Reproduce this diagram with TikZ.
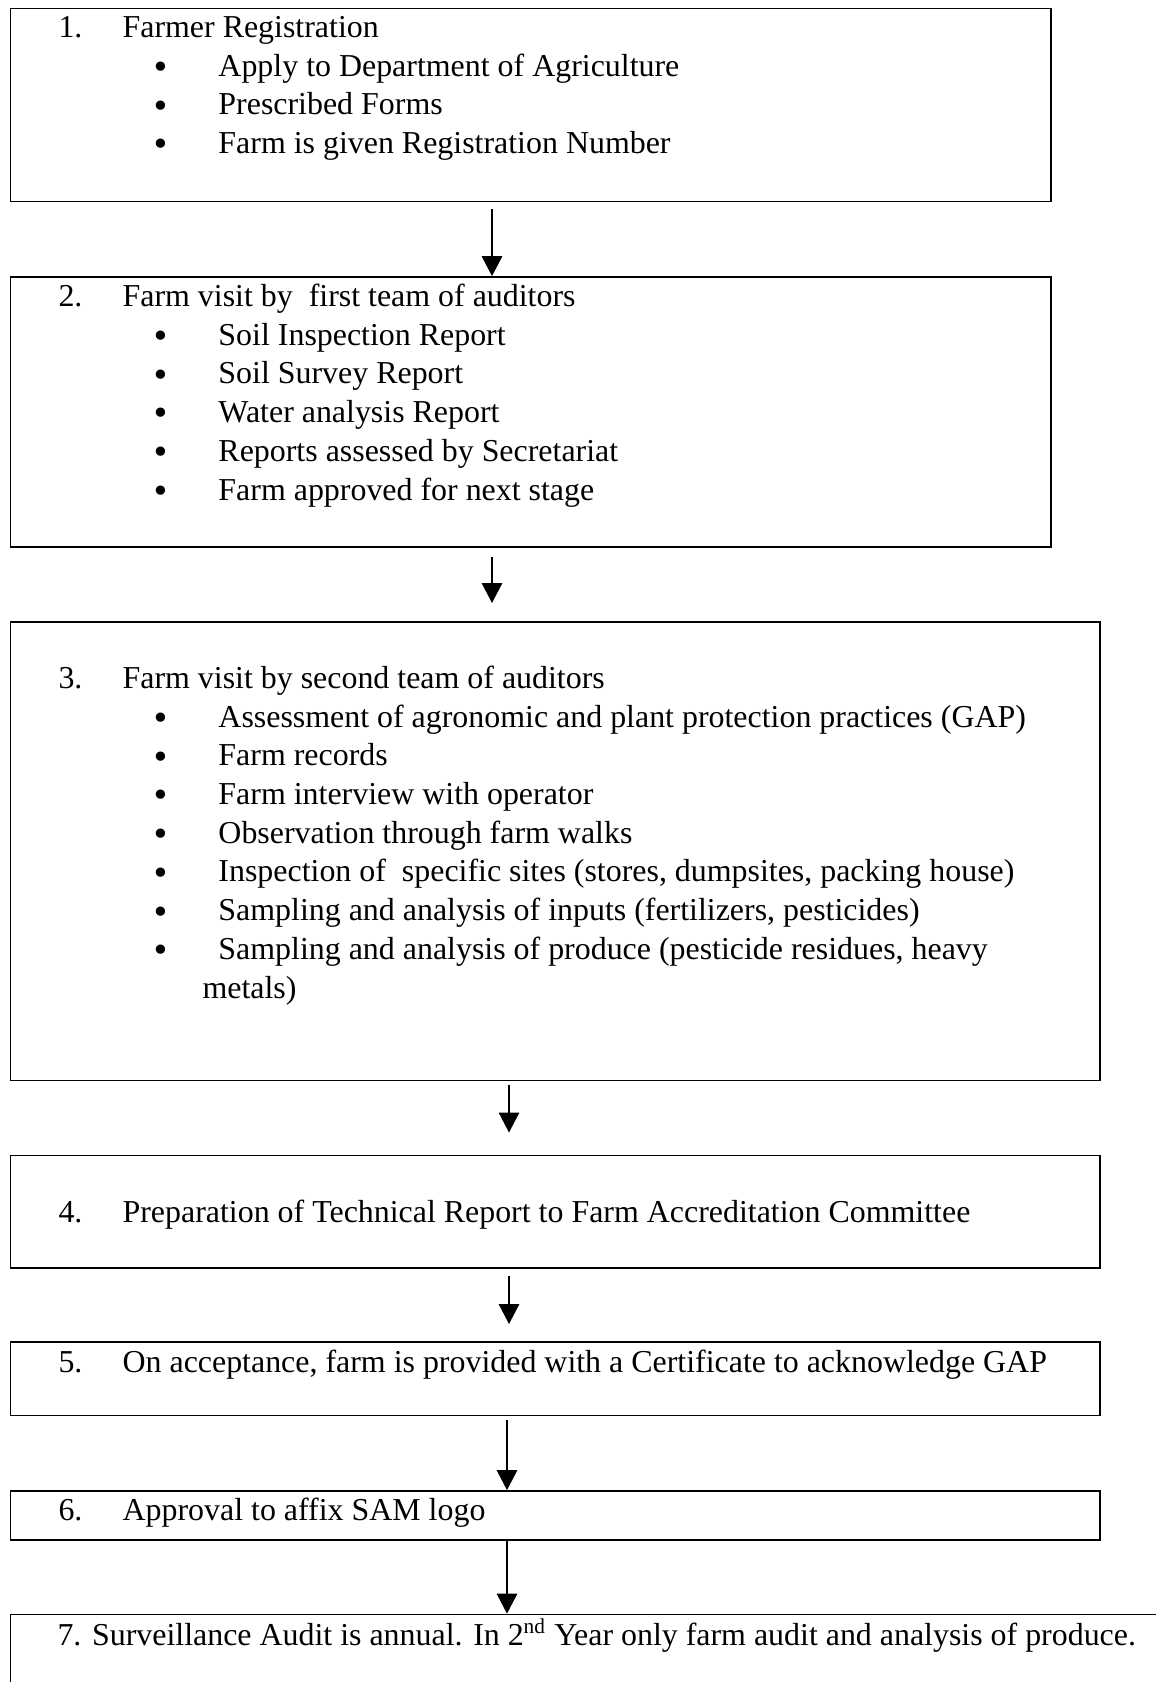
\documentclass[tikz,border=0pt]{standalone}
\usepackage{fontspec}
\setmainfont{Liberation Serif}
\newfontfamily\bulfont{DejaVu Sans}
\usetikzlibrary{arrows.meta,fit}

\newcommand{\numb}[1]{\makebox[24.1pt][l]{#1}}
\newcommand{\bul}{\makebox[24.8pt][l]{\makebox[6pt][c]{\raisebox{-0.9pt}{\bulfont •}}}}

\tikzset{
  stage/.style={draw, line width=0.68pt, inner sep=0pt},
  line/.style={anchor=base west, inner sep=0pt, font=\fontsize{12}{14}\selectfont},
  flow/.style={line width=0.5pt, -{Triangle[length=7.5pt,width=7.7pt]}}
}

\begin{document}
\begin{tikzpicture}[x=0.376pt, y=-0.376pt]
  \useasboundingbox (0,0) rectangle (1155,1682);

  % Boxes
  \node[stage, fit={(10.5,8.5) (1051,201.5)}] (s1) {};
  \node[stage, fit={(10.5,277) (1051,547)}] (s2) {};
  \node[stage, fit={(10.5,622) (1100,1080.5)}] (s3) {};
  \node[stage, fit={(10.5,1155.5) (1100,1268)}] (s4) {};
  \node[stage, fit={(10.5,1342) (1100,1415.5)}] (s5) {};
  \node[stage, fit={(10.5,1491) (1100,1540)}] (s6) {};
  % last box runs off the page
  \node[stage, fit={(10.5,1614.5) (1250,1760)}] (s7) {};

  % Stage 1
  \node[line] (h1) at (58,37.5) {\numb{1.}Farmer Registration};
  \node[line] (b1a) at (152,76.2) {\bul Apply to Department of Agriculture};
  \node[line] (b1b) at (152,114.9) {\bul Prescribed Forms};
  \node[line] (b1c) at (152,153.6) {\bul Farm is given Registration Number};

  % Stage 2
  \node[line] (h2) at (58,306.5) {\numb{2.}Farm visit by\ \ first team of auditors};
  \node[line] (b2a) at (152,345.2) {\bul Soil Inspection Report};
  \node[line] (b2b) at (152,383.9) {\bul Soil Survey Report};
  \node[line] (b2c) at (152,422.6) {\bul Water analysis Report};
  \node[line] (b2d) at (152,461.3) {\bul Reports assessed by Secretariat};
  \node[line] (b2e) at (152,500) {\bul Farm approved for next stage};

  % Stage 3
  \node[line] (h3) at (58,688.4) {\numb{3.}Farm visit by second team of auditors};
  \node[line] (b3a) at (152,727.1) {\bul Assessment of agronomic and plant protection practices (GAP)};
  \node[line] (b3b) at (152,765.8) {\bul Farm records};
  \node[line] (b3c) at (152,804.5) {\bul Farm interview with operator};
  \node[line] (b3d) at (152,843.2) {\bul Observation through farm walks};
  \node[line] (b3e) at (152,881.9) {\bul Inspection of\ \ specific sites (stores, dumpsites, packing house)};
  \node[line] (b3f) at (152,920.6) {\bul Sampling and analysis of inputs (fertilizers, pesticides)};
  \node[line] (b3g) at (152,959.3) {\bul Sampling and analysis of produce (pesticide residues, heavy};
  \node[line] (b3h) at (202,998) {metals)};

  % Stages 4 to 7
  \node[line] (h4) at (58,1222) {\numb{4.}Preparation of Technical Report to Farm Accreditation Committee};
  \node[line] (h5) at (58,1372) {\numb{5.}On acceptance, farm is provided with a Certificate to acknowledge GAP};
  \node[line] (h6) at (58,1520.5) {\numb{6.}Approval to affix SAM logo};
  \node[line] (h7) at (57,1645) {7. Surveillance Audit is annual. In 2\textsuperscript{nd} Year only farm audit and analysis of produce.};

  % Arrows
  \coordinate (a1) at (492,209);
  \draw[flow] (a1) -- (a1 |- s2.north);
  \coordinate (a2) at (492,557);
  \coordinate (a2e) at (492,603);
  \draw[flow] (a2) -- (a2e);
  \coordinate (a3) at (509,1085);
  \coordinate (a3e) at (509,1132.5);
  \draw[flow] (a3) -- (a3e);
  \coordinate (a4) at (509,1276);
  \coordinate (a4e) at (509,1324);
  \draw[flow] (a4) -- (a4e);
  \coordinate (a5) at (507,1420);
  \draw[flow] (a5) -- (a5 |- s6.north);
  \draw[flow] (s6.south -| a5) -- (a5 |- s7.north);
\end{tikzpicture}
\end{document}
